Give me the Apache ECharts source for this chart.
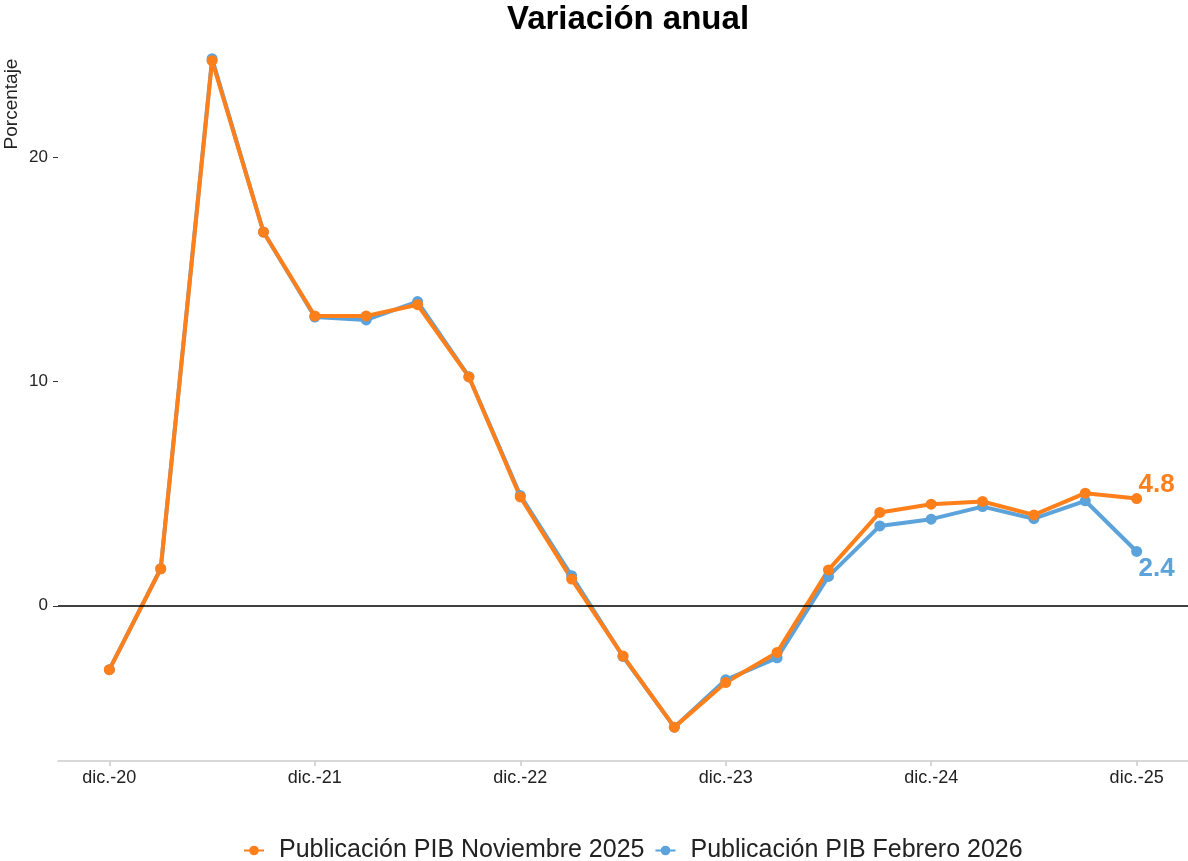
<!DOCTYPE html>
<html>
<head>
<meta charset="utf-8">
<script src="https://cdn.jsdelivr.net/npm/echarts@6/dist/echarts.min.js"></script>
<style>
  html, body { margin: 0; padding: 0; background: #fff; }
  #chart { width: 1188px; height: 861px; }
</style>
</head>
<body>
<div id="chart"></div>
<script>
var quarters = ['dic.-20', 'mar.-21', 'jun.-21', 'sep.-21', 'dic.-21', 'mar.-22', 'jun.-22', 'sep.-22',
    'dic.-22', 'mar.-23', 'jun.-23', 'sep.-23', 'dic.-23', 'mar.-24', 'jun.-24', 'sep.-24',
    'dic.-24', 'mar.-25', 'jun.-25', 'sep.-25', 'dic.-25'];
var tickQuarters = ['dic.-20', 'dic.-21', 'dic.-22', 'dic.-23', 'dic.-24', 'dic.-25'];
var yTicks = [0, 10, 20];

// Publicación PIB Noviembre 2025
var pibNov2025 = [-2.85, 1.65, 24.3, 16.66, 12.92, 12.92, 13.42, 10.2, 4.85, 1.19, -2.24, -5.41,
    -3.42, -2.08, 1.6, 4.16, 4.53, 4.65, 4.05, 5.02, 4.78];
// Publicación PIB Febrero 2026
var pibFeb2026 = [-2.85, 1.65, 24.39, 16.66, 12.87, 12.74, 13.56, 10.21, 4.92, 1.34, -2.26, -5.41,
    -3.3, -2.32, 1.31, 3.56, 3.86, 4.42, 3.88, 4.68, 2.42];

var ORANGE = '#FF7F1A';
var BLUE = '#5BA3DA';
var FONT = 'Liberation Sans, Arial, sans-serif';

var chart = echarts.init(document.getElementById('chart'));

function toPoints(values, color, labelText, labelOffset) {
    var pts = values.map(function (v, i) { return [i, v]; });
    var last = pts.length - 1;
    pts[last] = {
        value: pts[last],
        label: {
            show: true,
            position: 'inside',
            offset: labelOffset,
            formatter: labelText,
            color: color,
            fontSize: 26,
            fontWeight: 'bold',
            fontFamily: FONT
        }
    };
    return pts;
}

function makeSeries(name, values, color, labelText, labelOffset) {
    return {
        name: name,
        type: 'line',
        data: toPoints(values, color, labelText, labelOffset),
        symbol: 'circle',
        symbolSize: 11,
        showAllSymbol: true,
        color: color,
        lineStyle: { width: 4, color: color },
        itemStyle: { color: color },
        emphasis: { disabled: true },
        animation: false
    };
}

var tickIdx = tickQuarters.map(function (q) { return quarters.indexOf(q); });

var blue = makeSeries('Publicación PIB Febrero 2026', pibFeb2026, BLUE, '2.4', [20, 17]);
blue.markLine = {
    silent: true,
    symbol: 'none',
    label: { show: false },
    lineStyle: { color: '#000', width: 1.5, type: 'solid' },
    data: [{ yAxis: 0 }]
};
var orange = makeSeries('Publicación PIB Noviembre 2025', pibNov2025, ORANGE, '4.8', [20, -14]);

var option = {
    backgroundColor: '#fff',
    animation: false,
    textStyle: { fontFamily: FONT },
    title: {
        text: 'Variación anual',
        left: 623,
        textAlign: 'center',
        top: -2,
        textStyle: { fontSize: 33, fontWeight: 'bold', color: '#000', fontFamily: FONT }
    },
    legend: {
        data: ['Publicación PIB Noviembre 2025', 'Publicación PIB Febrero 2026'],
        left: 238,
        top: 833,
        itemWidth: 20,
        itemHeight: 12,
        itemGap: 10,
        textStyle: { fontSize: 25, color: '#222', fontFamily: FONT, padding: [0, 0, 0, 10] }
    },
    grid: { left: 58, right: 0, top: 25, bottom: 100 },
    xAxis: {
        type: 'value',
        min: -1,
        max: 21,
        axisLine: { show: true, onZero: false, lineStyle: { color: '#cccccc', width: 1.5 } },
        axisTick: { show: true, customValues: tickIdx, length: 5, lineStyle: { color: '#cccccc', width: 1.5 } },
        axisLabel: {
            customValues: tickIdx,
            formatter: function (v) { return quarters[v]; },
            fontSize: 18,
            color: '#222',
            margin: 8,
            fontFamily: FONT
        },
        splitLine: { show: false }
    },
    yAxis: {
        type: 'value',
        min: -6.92,
        max: 25.89,
        axisLine: { show: false, onZero: false },
        axisTick: { show: true, customValues: yTicks, length: 5, lineStyle: { color: '#333', width: 1 } },
        axisLabel: { customValues: yTicks, fontSize: 17, color: '#222', margin: 10, fontFamily: FONT },
        splitLine: { show: false }
    },
    graphic: [{
        type: 'text',
        x: 12,
        y: 104,
        rotation: Math.PI / 2,
        style: {
            text: 'Porcentaje',
            fontSize: 19,
            fill: '#222',
            fontFamily: FONT,
            align: 'center',
            verticalAlign: 'middle'
        }
    }],
    series: [blue, orange]
};

chart.setOption(option);
</script>
</body>
</html>
